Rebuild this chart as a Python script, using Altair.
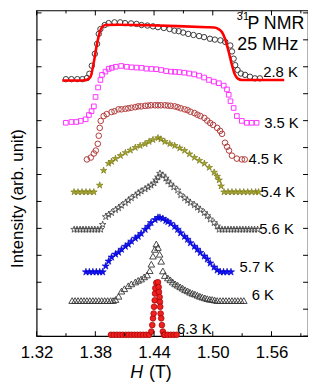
import altair as alt
import pandas as pd

# ---------------- data (H in tesla, intensity in offset units) ----------------
H_28 = [1.3499,1.3556,1.3616,1.3667,1.3714,1.3739,1.3764,1.3795,1.3818,1.3835,1.3852,1.3896,1.3936,1.3996,1.4054,1.4104,1.4165,1.4221,1.4272,1.4332,1.4389,1.4440,1.4500,1.4558,1.4608,1.4652,1.4697,1.4749,1.4803,1.4860,1.4911,1.4971,1.5021,1.5078,1.5128,1.5179,1.5196,1.5213,1.5229,1.5253,1.5287,1.5330,1.5380,1.5431,1.5481]
I_28 = [9.54,9.54,9.54,9.54,9.58,9.74,10.04,10.48,10.85,11.22,11.40,11.55,11.62,11.65,11.65,11.62,11.61,11.59,11.55,11.53,11.50,11.47,11.44,11.40,11.34,11.32,11.27,11.22,11.18,11.14,11.10,11.04,11.01,10.98,10.92,10.79,10.57,10.30,10.06,9.88,9.75,9.70,9.63,9.57,9.57]

H_fit = [1.3462,1.3664,1.3714,1.3751,1.3785,1.3815,1.3852,1.3875,1.3906,1.4037,1.4339,1.4641,1.4944,1.5014,1.5055,1.5095,1.5125,1.5163,1.5196,1.5226,1.5256,1.5297,1.5448,1.5730]
I_fit = [9.49,9.49,9.52,9.63,10.18,10.81,11.36,11.50,11.55,11.56,11.54,11.51,11.47,11.46,11.41,11.28,11.04,10.55,10.07,9.71,9.56,9.51,9.51,9.51]

H_35 = [1.3499,1.3556,1.3606,1.3651,1.3701,1.3734,1.3761,1.3785,1.3802,1.3828,1.3852,1.3868,1.3903,1.3936,1.3969,1.4009,1.4064,1.4120,1.4171,1.4221,1.4272,1.4322,1.4373,1.4423,1.4473,1.4524,1.4574,1.4614,1.4659,1.4709,1.4759,1.4810,1.4860,1.4911,1.4961,1.5011,1.5062,1.5112,1.5145,1.5163,1.5181,1.5213,1.5246,1.5297,1.5347,1.5397,1.5448]
I_35 = [7.92,7.95,7.95,7.99,8.05,8.21,8.35,8.53,8.88,9.23,9.51,9.70,9.82,9.92,9.96,10.00,10.03,10.00,9.98,9.97,9.96,9.93,9.92,9.91,9.88,9.84,9.82,9.81,9.80,9.78,9.75,9.72,9.67,9.60,9.51,9.45,9.39,9.30,9.16,8.96,8.72,8.47,8.17,7.99,7.92,7.92,7.92]

H_45 = [1.3714,1.3754,1.3785,1.3805,1.3825,1.3835,1.3845,1.3855,1.3885,1.3916,1.3966,1.3996,1.4037,1.4067,1.4107,1.4137,1.4168,1.4208,1.4238,1.4268,1.4309,1.4339,1.4369,1.4410,1.4440,1.4470,1.4510,1.4541,1.4571,1.4611,1.4641,1.4672,1.4712,1.4742,1.4772,1.4813,1.4843,1.4873,1.4914,1.4944,1.4974,1.5004,1.5045,1.5075,1.5095,1.5125,1.5146,1.5166,1.5196,1.5246,1.5297,1.5327]
I_45 = [6.56,6.63,6.78,6.89,7.14,7.44,7.73,7.99,8.17,8.24,8.32,8.35,8.42,8.42,8.44,8.46,8.48,8.50,8.53,8.53,8.55,8.56,8.57,8.57,8.57,8.57,8.57,8.56,8.55,8.53,8.50,8.46,8.42,8.39,8.33,8.28,8.22,8.17,8.10,8.00,7.91,7.84,7.73,7.62,7.51,7.18,7.03,6.89,6.70,6.59,6.56,6.56]

H_54 = [1.3583,1.3623,1.3664,1.3704,1.3744,1.3785,1.3845,1.3885,1.3936,1.3966,1.4006,1.4057,1.4107,1.4158,1.4208,1.4258,1.4309,1.4349,1.4389,1.4440,1.4470,1.4510,1.4561,1.4611,1.4662,1.4712,1.4762,1.4813,1.4863,1.4914,1.4964,1.5014,1.5045,1.5065,1.5085,1.5115,1.5156,1.5196,1.5236,1.5277,1.5317,1.5357,1.5397,1.5438,1.5468]
I_54 = [5.35,5.35,5.35,5.35,5.35,5.35,5.60,6.15,6.41,6.48,6.59,6.70,6.81,6.90,7.00,7.07,7.14,7.22,7.29,7.36,7.31,7.22,7.14,7.07,6.98,6.89,6.76,6.63,6.52,6.41,6.26,6.08,5.93,5.79,5.57,5.35,5.35,5.35,5.35,5.35,5.35,5.35,5.35,5.35,5.35]

H_56 = [1.3583,1.3613,1.3644,1.3674,1.3704,1.3734,1.3764,1.3795,1.3825,1.3855,1.3875,1.3906,1.3936,1.3966,1.4006,1.4037,1.4067,1.4107,1.4137,1.4168,1.4208,1.4238,1.4268,1.4309,1.4339,1.4369,1.4400,1.4420,1.4440,1.4460,1.4490,1.4520,1.4541,1.4571,1.4601,1.4641,1.4672,1.4712,1.4742,1.4772,1.4813,1.4843,1.4873,1.4914,1.4944,1.4974,1.5014,1.5045,1.5065,1.5095,1.5125,1.5156,1.5186,1.5216,1.5246,1.5277,1.5307,1.5337,1.5367,1.5397,1.5427,1.5458]
I_56 = [3.96,3.96,3.96,3.96,3.96,3.96,3.96,3.96,3.96,3.96,4.14,4.43,4.51,4.58,4.69,4.76,4.85,4.95,5.04,5.13,5.22,5.31,5.38,5.46,5.53,5.60,5.68,5.79,5.90,6.04,5.97,5.86,5.75,5.64,5.53,5.42,5.24,5.13,5.04,4.95,4.87,4.78,4.69,4.58,4.47,4.34,4.21,4.08,3.96,3.96,3.96,3.96,3.96,3.96,3.96,3.96,3.96,3.96,3.96,3.96,3.96,3.96]

H_57 = [1.3704,1.3739,1.3775,1.3810,1.3845,1.3875,1.3906,1.3936,1.3966,1.4006,1.4037,1.4067,1.4107,1.4137,1.4168,1.4208,1.4238,1.4268,1.4309,1.4339,1.4369,1.4410,1.4440,1.4460,1.4490,1.4520,1.4541,1.4571,1.4611,1.4641,1.4672,1.4712,1.4742,1.4772,1.4813,1.4843,1.4873,1.4914,1.4944,1.4974,1.5014,1.5045,1.5075,1.5110,1.5146,1.5186]
I_57 = [2.38,2.38,2.38,2.38,2.38,2.38,2.60,2.78,2.93,3.04,3.11,3.22,3.33,3.41,3.52,3.63,3.70,3.81,3.96,4.07,4.21,4.32,4.40,4.40,4.36,4.29,4.25,4.18,4.07,3.96,3.83,3.70,3.59,3.46,3.33,3.22,3.10,2.97,2.86,2.71,2.56,2.45,2.38,2.38,2.38,2.38]

H_6 = [1.3563,1.3593,1.3623,1.3654,1.3684,1.3714,1.3744,1.3775,1.3805,1.3835,1.3865,1.3896,1.3926,1.3956,1.3981,1.4006,1.4037,1.4067,1.4097,1.4137,1.4168,1.4208,1.4238,1.4268,1.4299,1.4329,1.4356,1.4372,1.4389,1.4407,1.4423,1.4440,1.4457,1.4473,1.4490,1.4510,1.4541,1.4566,1.4591,1.4616,1.4641,1.4667,1.4692,1.4717,1.4742,1.4767,1.4793,1.4818,1.4843,1.4868,1.4893,1.4919,1.4944,1.4969,1.4994,1.5019,1.5045,1.5075,1.5105,1.5135,1.5166,1.5196,1.5226,1.5256,1.5287,1.5317]
I_6 = [1.32,1.32,1.32,1.32,1.32,1.32,1.32,1.32,1.32,1.32,1.32,1.32,1.32,1.32,1.32,1.36,1.48,1.67,1.76,1.87,1.94,2.01,2.07,2.12,2.20,2.27,2.43,2.67,2.97,3.22,3.42,3.29,3.04,2.78,2.42,2.25,2.16,2.09,2.01,1.94,1.89,1.83,1.78,1.72,1.68,1.63,1.59,1.56,1.52,1.48,1.45,1.42,1.39,1.37,1.36,1.34,1.32,1.32,1.32,1.32,1.32,1.32,1.32,1.32,1.32,1.32]

H_63 = [1.396,1.399,1.402,1.405,1.408,1.411,1.414,1.417,1.420,1.423,1.426,1.429,1.432,1.435,1.4372,1.4382,1.4389,1.4396,1.4400,1.4407,1.4410,1.4413,1.4423,1.4440,1.4447,1.4450,1.4457,1.4460,1.4463,1.4467,1.4473,1.4480,1.4490,1.4500,1.451,1.454,1.457,1.460,1.463]
I_63 = [0.05,0.05,0.05,0.05,0.05,0.05,0.05,0.05,0.05,0.05,0.05,0.05,0.05,0.05,0.17,0.41,0.66,0.84,1.09,1.33,1.58,1.78,1.98,2.00,1.82,1.64,1.45,1.27,1.09,0.84,0.66,0.41,0.17,0.05,0.05,0.05,0.05,0.05,0.05]

lab_text = ["2.8 K", "3.5 K", "4.5 K", "5.4 K", "5.6 K", "5.7 K", "6 K", "6.3 K"]
lab_H = [1.5516, 1.5525, 1.5364, 1.5488, 1.5475, 1.5274, 1.5398, 1.4634]
lab_I = [9.82, 7.91, 6.59, 5.35, 3.96, 2.55, 1.51, 0.26]

x_labels = [1.32, 1.38, 1.44, 1.50, 1.56]
x_minor = [1.35, 1.41, 1.47, 1.53, 1.59]
y_ticks = [0, 1, 2, 3, 4, 5, 6, 7, 8, 9, 10, 11, 12]

# ---------------- styling ----------------
FONT = "Liberation Sans"
W, HT = 275, 330
STAR = ("M0,-1L0.223,-0.307L0.951,-0.309L0.361,0.117L0.588,0.809L0,0.38"
        "L-0.588,0.809L-0.361,0.117L-0.951,-0.309L-0.223,-0.307Z")

xaxis = alt.Axis(values=x_labels, format=".2f", labelFont=FONT, labelFontSize=17,
                 labelColor="black", labelPadding=9, labelFlush=False, labelOverlap=False,
                 ticks=False, tickSize=0, domain=False, grid=False, title=None)
yaxis = alt.Axis(labels=False, ticks=False, domain=False, grid=False,
                 title="Intensity (arb. unit)", titleFont=FONT, titleFontSize=17,
                 titleFontWeight="normal", titleColor="black", titleAngle=270,
                 titleX=-19, titleY=190, titleAlign="center", titleBaseline="middle")
xenc = alt.X("H:Q", scale=alt.Scale(domain=[1.32, 1.5973], nice=False, zero=False), axis=xaxis)
yenc = alt.Y("I:Q", scale=alt.Scale(domain=[0, 12.09], nice=False, zero=False), axis=yaxis)


def series(H, I, **kw):
    return alt.Chart(pd.DataFrame({"H": H, "I": I})).mark_point(opacity=1, **kw).encode(x=xenc, y=yenc)


layers = []
layers.append(series(H_28, I_28, shape="circle", filled=False, color="#3a3a3a", size=30, strokeWidth=1))
layers.append(series(H_35, I_35, shape="square", filled=False, color="#ff33ff", size=22, strokeWidth=1))
layers.append(series(H_45, I_45, shape="circle", filled=False, color="#b23a3a", size=32, strokeWidth=1))
layers.append(series(H_54, I_54, shape=STAR, filled=True, fill="#a6a626", stroke="#6e6e10", size=50, strokeWidth=0.6))
layers.append(series(H_56, I_56, shape=STAR, filled=False, color="#404040", size=50, strokeWidth=0.8))
layers.append(series(H_57, I_57, shape=STAR, filled=True, fill="#1010ff", stroke="#0000bb", size=58, strokeWidth=0.6))
layers.append(series(H_6, I_6, shape="triangle-up", filled=False, color="#333333", size=45, strokeWidth=0.9))
layers.append(series(H_63, I_63, shape="circle", filled=True, fill="#ee2020", stroke="#a00000", size=34, strokeWidth=0.7))

fit = alt.Chart(pd.DataFrame({"H": H_fit, "I": I_fit})).mark_line(
    color="#ff0000", strokeWidth=2.6, interpolate="monotone").encode(x=xenc, y=yenc)
layers.append(fit)

# frame ticks (inward)
def xticks(vals, y0, y1):
    return alt.Chart(pd.DataFrame({"H": vals})).mark_rule(color="black", strokeWidth=1).encode(
        x=xenc, y=alt.value(y0), y2=alt.value(y1))


def yticks(vals, x0, x1):
    return alt.Chart(pd.DataFrame({"I": vals})).mark_rule(color="black", strokeWidth=1).encode(
        y=yenc, x=alt.value(x0), x2=alt.value(x1))


layers += [xticks(x_labels, HT, HT - 5), xticks(x_minor, HT, HT - 3),
           xticks(x_labels, 0, 5), xticks(x_minor, 0, 3),
           yticks(y_ticks, 0, 5), yticks(y_ticks, W, W - 5)]

# temperature labels
labels = alt.Chart(pd.DataFrame({"H": lab_H, "I": lab_I, "t": lab_text})).mark_text(
    font=FONT, fontSize=15, align="left", baseline="middle", color="black").encode(
    x=xenc, y=yenc, text="t:N")
layers.append(labels)

def note(h, i, txt, size):
    return alt.Chart(pd.DataFrame({"H": [h], "I": [i], "t": [txt]})).mark_text(
        font=FONT, fontSize=size, align="left", baseline="alphabetic", color="black").encode(
        x=xenc, y=yenc, text="t:N")

layers += [note(1.5246, 11.72, "31", 11), note(1.5354, 11.40, "P NMR", 18),
           note(1.5251, 10.61, "25 MHz", 18)]

# x-axis title "H (T)" with italic H
t1 = alt.Chart(pd.DataFrame({"t": ["H"]})).mark_text(
    font=FONT, fontSize=18, fontStyle="italic", align="left", baseline="alphabetic", color="black").encode(
    x=alt.value(95), y=alt.value(372), text="t:N")
t2 = alt.Chart(pd.DataFrame({"t": ["(T)"]})).mark_text(
    font=FONT, fontSize=18, align="left", baseline="alphabetic", color="black").encode(
    x=alt.value(114), y=alt.value(372), text="t:N")
layers += [t1, t2]

chart = alt.layer(*layers).properties(
    width=W, height=HT,
    autosize=alt.AutoSizeParams(type="none"),
    padding={"left": 29, "top": 0, "right": 0, "bottom": 46},
).configure_view(stroke="black", strokeWidth=1.2)

chart.save("out.html", embed_options={"renderer": "svg", "actions": False})
